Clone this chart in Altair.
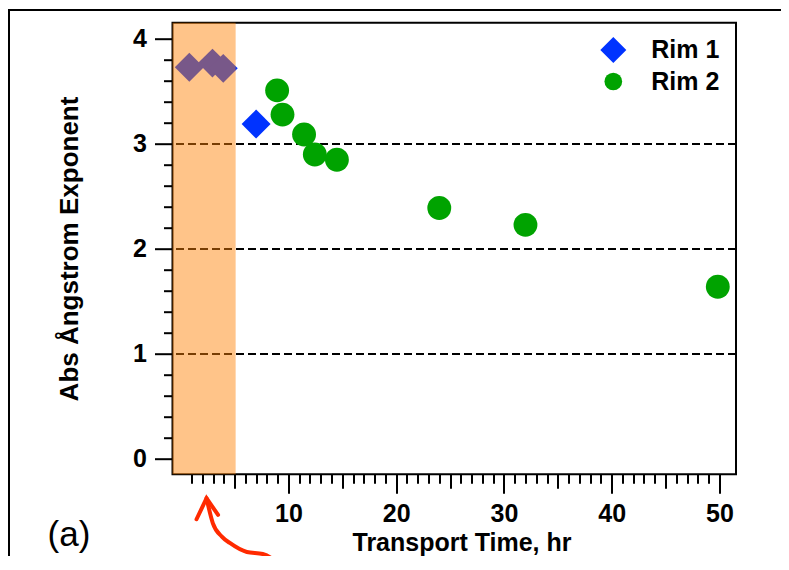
import altair as alt
import pandas as pd

# ---- data ----
series_names = ["Rim 1", "Rim 2"]
series_colors = ["#0033FF", "#00A300"]
series_shapes = ["diamond", "circle"]

rim1_time = [0.8, 2.95, 3.95, 7.0]
rim1_abs = [3.73, 3.77, 3.72, 3.19]

rim2_time = [8.95, 9.45, 11.45, 12.45, 14.5, 24.0, 32.0, 49.85]
rim2_abs = [3.51, 3.28, 3.09, 2.90, 2.85, 2.39, 2.23, 1.64]

ref_lines = [1, 2, 3]
band_start = [-0.76]
band_end = [5.1]

x_domain = [-0.76, 51.54]
y_domain = [-0.146, 4.155]
x_ticks = [1, 2, 3, 4, 5, 6, 7, 8, 9, 10, 11, 12, 13, 14, 15, 16, 17, 18, 19, 20,
           21, 22, 23, 24, 25, 26, 27, 28, 29, 30, 31, 32, 33, 34, 35, 36, 37, 38, 39, 40,
           41, 42, 43, 44, 45, 46, 47, 48, 49, 50]
y_ticks = [0, 0.2, 0.4, 0.6, 0.8, 1, 1.2, 1.4, 1.6, 1.8, 2, 2.2, 2.4, 2.6, 2.8, 3,
           3.2, 3.4, 3.6, 3.8, 4]

# annotation arrow (in data units)
arrow_x = [2.40, 2.98, 3.82, 4.56, 6.14, 7.62, 8.92, 9.48, 9.9]
arrow_y = [-0.374, -0.61, -0.74, -0.80, -0.886, -0.905, -0.99, -1.057, -1.12]
head_x = [1.47, 2.40, 3.47]
head_y = [-0.574, -0.374, -0.533]

FONT = "Liberation Sans"
W, H = 563.5, 451.6

pts = pd.DataFrame({
    "series": ["Rim 1"] * len(rim1_time) + ["Rim 2"] * len(rim2_time),
    "time": rim1_time + rim2_time,
    "abs": rim1_abs + rim2_abs,
})

xs = alt.Scale(domain=x_domain, nice=False, zero=False)
ys = alt.Scale(domain=y_domain, nice=False, zero=False)

xaxis = alt.Axis(
    title="Transport Time, hr", values=x_ticks, domain=False, grid=False,
    tickColor="black", tickWidth=2,
    tickSize={"expr": "datum.value % 10 === 0 ? 19 : (datum.value % 5 === 0 ? 14 : 9)"},
    labelExpr="datum.value % 10 === 0 ? format(datum.value, 'd') : ''",
    labelFont=FONT, labelFontSize=25, labelFontWeight="bold", labelColor="black",
    labelPadding=8, labelOverlap=False, labelFlush=False,
    titleFont=FONT, titleFontSize=25, titleFontWeight="bold", titleColor="black",
    titleX=289, titleY=76.4, titleBaseline="alphabetic", titleAlign="center",
)
yaxis = alt.Axis(
    title="Abs Ångstrom Exponent", values=y_ticks, domain=False, grid=False,
    tickColor="black", tickWidth=2,
    tickSize={"expr": "abs(datum.value - round(datum.value)) < 0.01 ? 18 : 9"},
    labelExpr="abs(datum.value - round(datum.value)) < 0.01 ? format(datum.value, 'd') : ''",
    labelFont=FONT, labelFontSize=25, labelFontWeight="bold", labelColor="black",
    labelPadding=8, labelOverlap=False, labelFlush=False,
    titleFont=FONT, titleFontSize=26, titleFontWeight="bold", titleColor="black",
    titleX=-95.2, titleY=225.8, titleBaseline="alphabetic", titleAlign="center",
    titleAngle=270,
)

X = lambda f: alt.X(f, scale=xs, axis=xaxis)
Y = lambda f: alt.Y(f, scale=ys, axis=yaxis)
color_scale = alt.Scale(domain=series_names, range=series_colors)

leg = alt.Legend(
    title=None, orient="none", legendX=427.8, legendY=14.3, padding=0,
    labelFont=FONT, labelFontSize=25, labelFontWeight="bold", labelColor="black",
    labelOffset=25, rowPadding=6, symbolStrokeWidth=0, symbolOpacity=1,
)

refs = alt.Chart(pd.DataFrame({"abs": ref_lines})).mark_rule(
    color="black", strokeWidth=2, strokeDash=[8, 4]
).encode(y=Y("abs:Q"))

rim1 = alt.Chart(pts).transform_filter("datum.series === 'Rim 1'").mark_point(
    filled=True, shape="diamond", size=840, opacity=1, strokeWidth=0
).encode(x=X("time:Q"), y=Y("abs:Q"),
         color=alt.Color("series:N", scale=color_scale, legend=leg))

rim2 = alt.Chart(pts).transform_filter("datum.series === 'Rim 2'").mark_point(
    filled=True, shape="circle", size=570, opacity=1, strokeWidth=0
).encode(x=X("time:Q"), y=Y("abs:Q"),
         color=alt.Color("series:N", scale=color_scale, legend=leg))

legend_layer = alt.Chart(pts).transform_filter("false").mark_point(
    filled=True, opacity=1, strokeWidth=0
).encode(
    x=X("time:Q"), y=Y("abs:Q"),
    color=alt.Color("series:N", scale=color_scale, legend=leg),
    shape=alt.Shape("series:N", scale=alt.Scale(domain=series_names, range=series_shapes), legend=leg),
    size=alt.Size("series:N", scale=alt.Scale(domain=series_names, range=[676, 314]), legend=leg),
)

band = alt.Chart(pd.DataFrame({"time": band_start, "end": band_end})).mark_rect(
    color="#FF8205", opacity=0.47
).encode(x=X("time:Q"), x2="end:Q")

arrow = alt.Chart(pd.DataFrame({"time": arrow_x, "abs": arrow_y, "i": list(range(len(arrow_x)))})).mark_line(
    color="#FF2A00", strokeWidth=4, strokeCap="round", interpolate="monotone"
).encode(x=X("time:Q"), y=Y("abs:Q"), order="i:Q")

head = alt.Chart(pd.DataFrame({"time": head_x, "abs": head_y, "i": [0, 1, 2]})).mark_line(
    color="#FF2A00", strokeWidth=4, strokeCap="round", strokeJoin="miter"
).encode(x=X("time:Q"), y=Y("abs:Q"), order="i:Q")

one = pd.DataFrame({"label": ["(a)"]})
panel_label = alt.Chart(one).mark_text(
    font=FONT, fontSize=35, color="black", align="center", baseline="alphabetic"
).encode(text="label:N", x=alt.value(-103.5), y=alt.value(523.5))

outer_left = alt.Chart(one).mark_rule(color="black", strokeWidth=2).encode(
    x=alt.value(-163.5), y=alt.value(-12.7), y2=alt.value(560))
outer_top = alt.Chart(one).mark_rule(color="black", strokeWidth=2).encode(
    x=alt.value(-164.5), x2=alt.value(700), y=alt.value(-12.7))

chart = alt.layer(
    refs, rim1, rim2, legend_layer, band, arrow, head, panel_label, outer_left, outer_top
).properties(
    width=W, height=H,
    autosize=alt.AutoSizeParams(type="none"),
    padding={"left": 164.5, "top": 14.7, "right": 45, "bottom": 81.7},
).configure(
    font=FONT, view=alt.ViewConfig(stroke="black", strokeWidth=2)
)

chart.save("out.html", embed_options={"renderer": "svg", "actions": False})
